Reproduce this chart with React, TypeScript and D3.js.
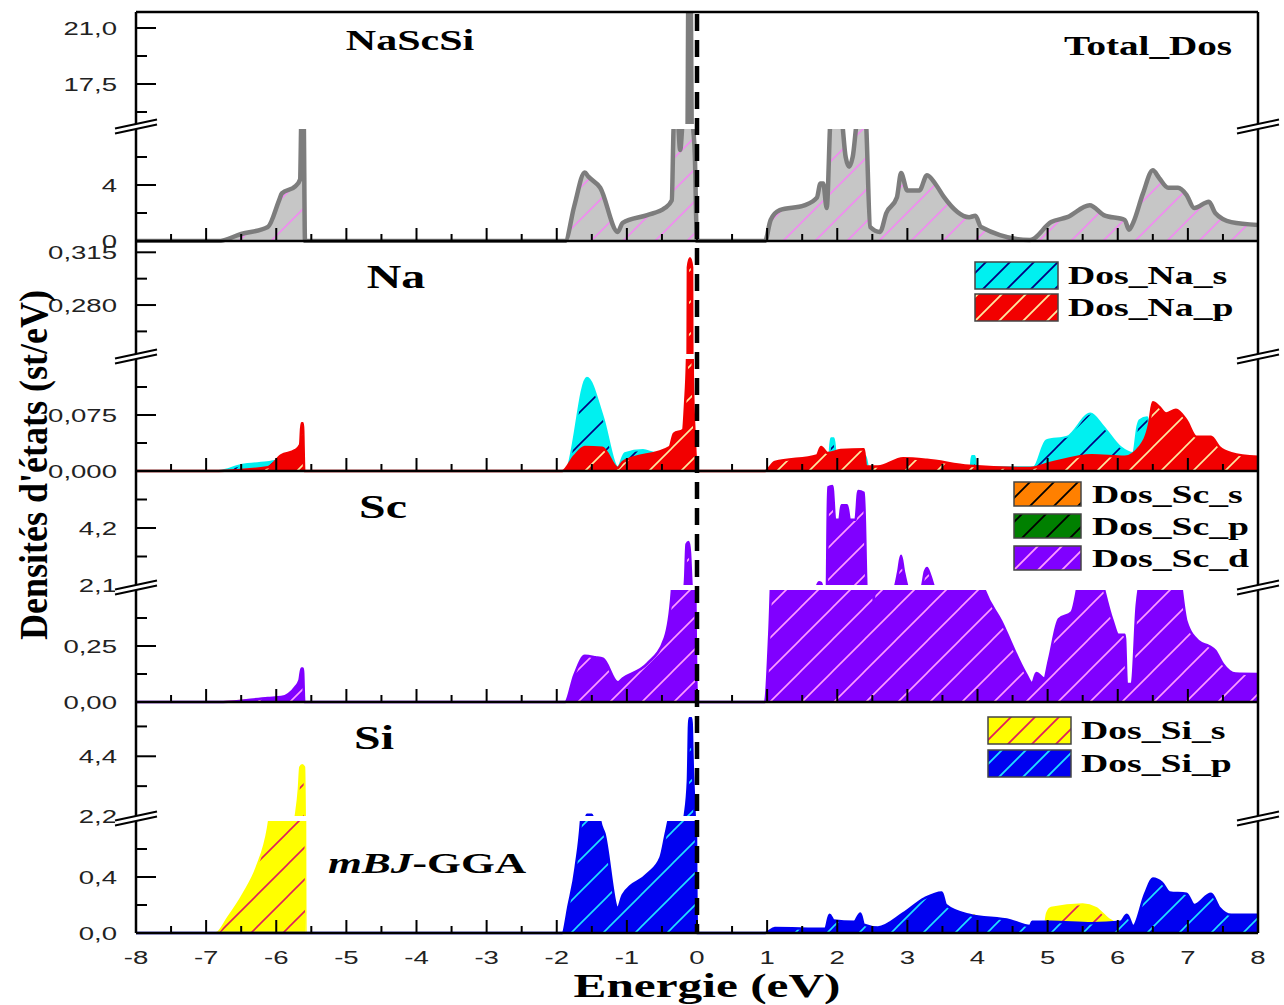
import React from "react";
import * as d3 from "d3";

type Pt = [number, number];

// energy axis
const energyMajor = [-8, -7, -6, -5, -4, -3, -2, -1, 0, 1, 2, 3, 4, 5, 6, 7, 8];
const energyMinor = [-7.5, -6.5, -5.5, -4.5, -3.5, -2.5, -1.5, -0.5, 0.5, 1.5, 2.5, 3.5, 4.5, 5.5, 6.5, 7.5];
const energyLabels = ["-8", "-7", "-6", "-5", "-4", "-3", "-2", "-1", "0", "1", "2", "3", "4", "5", "6", "7", "8"];

// y ticks per panel (lower / upper segment of the broken axis)
const totLowTicks = [0, 4];
const totLowLabels = ["0", "4"];
const totLowMinor = [2, 6];
const totUpTicks = [17.5, 21];
const totUpLabels = ["17,5", "21,0"];
const totUpMinor = [15.75, 19.25];

const naLowTicks = [0, 0.075];
const naLowLabels = ["0,000", "0,075"];
const naLowMinor = [0.0375, 0.1125];
const naUpTicks = [0.28, 0.315];
const naUpLabels = ["0,280", "0,315"];
const naUpMinor = [0.2625, 0.2975];

const scLowTicks = [0, 0.25];
const scLowLabels = ["0,00", "0,25"];
const scLowMinor = [0.125, 0.375];
const scUpTicks = [2.1, 4.2];
const scUpLabels = ["2,1", "4,2"];
const scUpMinor = [3.15, 5.25];

const siLowTicks = [0, 0.4];
const siLowLabels = ["0,0", "0,4"];
const siLowMinor = [0.2, 0.6];
const siUpTicks = [2.2, 4.4];
const siUpLabels = ["2,2", "4,4"];
const siUpMinor = [3.3, 5.5];

// DOS curves: [energy (eV), states/eV]
const totalDos: Pt[] = [
  [-8, 0], [-6.83, 0], [-6.5, 0.5], [-6.12, 1.0], [-5.96, 2.9], [-5.92, 3.4], [-5.73, 3.9], [-5.66, 4.4],
  [-5.64, 9], [-5.61, 9], [-5.59, 0],
  [-1.88, 0], [-1.75, 2.5], [-1.6, 4.9], [-1.55, 4.6], [-1.38, 3.8], [-1.13, 0.65], [-1.06, 1.3],
  [-0.71, 1.85], [-0.46, 2.35], [-0.36, 2.9], [-0.33, 8.5], [-0.28, 9], [-0.24, 6.5], [-0.2, 9],
  [-0.14, 12], [-0.12, 25], [-0.09, 25], [-0.07, 10], [-0.03, 6], [0, 0],
  [0.97, 0], [1.05, 1.5], [1.18, 2.2], [1.53, 2.55], [1.71, 3.1], [1.76, 4.1], [1.8, 4.1], [1.85, 2.35],
  [1.91, 9], [2.05, 9], [2.12, 6], [2.17, 5.3], [2.22, 6], [2.3, 9], [2.4, 9], [2.47, 1.0], [2.61, 0.65],
  [2.7, 2.0], [2.85, 3.1], [2.91, 4.85], [3.0, 3.6], [3.17, 3.6], [3.28, 4.7], [3.41, 4.0], [3.52, 3.15],
  [3.88, 1.7], [3.97, 1.8], [4.05, 1.0], [4.75, 0.07], [5.05, 1.35], [5.28, 1.7], [5.6, 2.55], [5.8, 1.85],
  [6.1, 1.5], [6.16, 0.8], [6.22, 1.3], [6.36, 3.4], [6.5, 5.05], [6.59, 4.5], [6.72, 3.8], [6.86, 3.8],
  [6.98, 3.3], [7.09, 2.35], [7.3, 2.8], [7.39, 2.0], [7.62, 1.35], [8, 1.15],
];

const naS: Pt[] = [
  [-8, 0], [-6.82, 0], [-6.5, 0.008], [-6.1, 0.012], [-5.9, 0.015], [-5.7, 0.014], [-5.62, 0.016], [-5.6, 0],
  [-1.88, 0], [-1.57, 0.125], [-1.34, 0.072], [-1.13, 0.005], [-1.03, 0.024], [-0.77, 0.028], [-0.58, 0.024],
  [-0.3, 0.03], [-0.15, 0.05], [-0.1, 0.06], [-0.03, 0.02], [0, 0],
  [0.97, 0], [1.1, 0.008], [1.8, 0.015], [1.88, 0.015], [1.91, 0.044], [1.95, 0.044], [1.98, 0.025],
  [2.4, 0.02], [2.45, 0.003], [3.0, 0.01], [3.9, 0.005], [3.92, 0.02], [3.96, 0.02], [3.98, 0.005],
  [4.8, 0.005], [4.98, 0.041], [5.28, 0.046], [5.61, 0.077], [5.8, 0.059], [6.04, 0.032], [6.22, 0.024],
  [6.28, 0.06], [6.31, 0.068], [6.42, 0.072], [6.5, 0.03], [7, 0.02], [8, 0.01],
];

const naP: Pt[] = [
  [-8, 0], [-6.82, 0], [-6.12, 0.005], [-5.93, 0.021], [-5.73, 0.028], [-5.66, 0.035], [-5.64, 0.064],
  [-5.62, 0.064], [-5.6, 0],
  [-1.92, 0], [-1.75, 0.02], [-1.6, 0.032], [-1.35, 0.031], [-1.13, 0.004], [-1.06, 0.012], [-0.39, 0.032],
  [-0.33, 0.05], [-0.2, 0.055], [-0.17, 0.09], [-0.14, 0.16], [-0.13, 0.305], [-0.1, 0.311], [-0.07, 0.305],
  [-0.06, 0.13], [-0.03, 0.04], [0, 0],
  [0.97, 0], [1.11, 0.012], [1.71, 0.021], [1.77, 0.032], [1.86, 0.024], [2.05, 0.028], [2.38, 0.029],
  [2.41, 0.006], [2.58, 0.006], [2.94, 0.017], [3.28, 0.015], [3.88, 0.007], [4.75, 0.004], [5.05, 0.011],
  [5.63, 0.021], [6.1, 0.019], [6.31, 0.032], [6.45, 0.064], [6.5, 0.092], [6.59, 0.086], [6.69, 0.077],
  [6.83, 0.082], [6.98, 0.068], [7.12, 0.046], [7.33, 0.046], [7.45, 0.032], [7.62, 0.024], [8, 0.019],
];

const scS: Pt[] = [
  [-8, 0], [-6.8, 0], [-6.4, 0.008], [-6.0, 0.012], [-5.7, 0.01], [-5.6, 0],
  [-1.9, 0], [-1.5, 0.005], [-0.5, 0.005], [0, 0], [1, 0], [8, 0.003],
];

const scP: Pt[] = [
  [-8, 0], [-5.6, 0], [-1.9, 0], [-1.5, 0.004], [0, 0], [8, 0],
];

const scD: Pt[] = [
  [-8, 0], [-6.76, 0], [-6.12, 0.018], [-5.93, 0.022], [-5.73, 0.066], [-5.67, 0.096], [-5.64, 0.15],
  [-5.62, 0.15], [-5.6, 0],
  [-1.88, 0], [-1.75, 0.12], [-1.6, 0.206], [-1.45, 0.2], [-1.34, 0.193], [-1.13, 0.088], [-1.06, 0.105],
  [-0.71, 0.171], [-0.46, 0.285], [-0.36, 0.49], [-0.3, 1.0], [-0.2, 1.6], [-0.17, 2.3], [-0.15, 3.6],
  [-0.12, 3.68], [-0.1, 3.3], [-0.08, 2.2], [-0.04, 1.0], [0, 0],
  [0.97, 0], [1.03, 0.3], [1.09, 0.8], [1.5, 1.5], [1.7, 2.0], [1.74, 2.2], [1.77, 2.17], [1.8, 1.9],
  [1.85, 2.0], [1.87, 5.7], [1.93, 5.75], [1.97, 4.5], [2.03, 4.5], [2.06, 5.04], [2.14, 5.04], [2.18, 4.5],
  [2.26, 4.5], [2.3, 5.56], [2.38, 5.5], [2.42, 1.8], [2.48, 1.0], [2.52, 0.45], [2.56, 1.0], [2.6, 1.8],
  [2.8, 1.9], [2.87, 2.6], [2.91, 3.18], [2.95, 2.6], [3.02, 2.0], [3.2, 2.0], [3.25, 2.6], [3.28, 2.73],
  [3.32, 2.5], [3.4, 1.9], [4.08, 0.52], [4.34, 0.36], [4.69, 0.127], [4.78, 0.083], [4.84, 0.13],
  [4.95, 0.105], [5.02, 0.19], [5.16, 0.37], [5.34, 0.4], [5.48, 0.6], [5.6, 0.7], [5.72, 0.6],
  [5.92, 0.37], [6.01, 0.3], [6.1, 0.3], [6.13, 0.08], [6.2, 0.08], [6.27, 0.43], [6.37, 0.6], [6.6, 0.7],
  [6.86, 0.6], [6.98, 0.36], [7.16, 0.27], [7.3, 0.25], [7.39, 0.23], [7.5, 0.17], [7.68, 0.127], [8, 0.125],
];

const siS: Pt[] = [
  [-8, 0], [-6.86, 0], [-6.69, 0.11], [-6.47, 0.28], [-6.28, 0.47], [-6.12, 0.75], [-6.05, 1.0], [-5.8, 1.5],
  [-5.72, 2.28], [-5.68, 3.2], [-5.66, 4.0], [-5.63, 4.08], [-5.6, 4.0], [-5.58, 0],
  [-1.9, 0], [-1.5, 0.1], [-0.5, 0.2], [0, 0], [0.97, 0], [3.9, 0.05], [3.95, 0.13], [4.0, 0.05],
  [4.95, 0.03], [4.99, 0.14], [5.05, 0.18], [5.5, 0.205], [5.69, 0.18], [5.87, 0.1], [5.98, 0.07],
  [6.2, 0.03], [8, 0.02],
];

const siP: Pt[] = [
  [-8, 0], [-1.92, 0], [-1.83, 0.2], [-1.73, 0.47], [-1.63, 1.0], [-1.57, 2.25], [-1.5, 2.25], [-1.44, 1.2],
  [-1.38, 0.8], [-1.32, 0.71], [-1.13, 0.18], [-1.06, 0.27], [-0.71, 0.42], [-0.52, 0.54], [-0.45, 0.7],
  [-0.39, 0.85], [-0.25, 1.5], [-0.17, 2.3], [-0.13, 3.5], [-0.11, 5.8], [-0.08, 5.8], [-0.06, 4.0],
  [-0.03, 2.0], [0, 0],
  [0.97, 0], [1.11, 0.035], [1.83, 0.03], [1.89, 0.13], [1.95, 0.09], [2.24, 0.08], [2.33, 0.14],
  [2.38, 0.06], [2.58, 0.04], [2.94, 0.14], [3.25, 0.25], [3.49, 0.29], [3.55, 0.2], [3.88, 0.13],
  [4.47, 0.09], [4.75, 0.05], [4.78, 0.08], [5.05, 0.08], [5.63, 0.07], [6.04, 0.08], [6.13, 0.13],
  [6.22, 0.05], [6.39, 0.28], [6.5, 0.39], [6.63, 0.36], [6.74, 0.29], [6.98, 0.28], [7.09, 0.2],
  [7.33, 0.28], [7.45, 0.18], [7.62, 0.13], [8, 0.13],
];

// layout
const W = 1284;
const H = 1005;
const X0 = 136;
const X1 = 1258;
const LOW_H = 112;
const GAP = 5;
const SX = 1.45; // the figure is stretched horizontally
const SERIF = "'Liberation Serif', 'Times New Roman', serif";
const SANS = "'Liberation Sans', Arial, sans-serif";

type Series = { id: string; data: Pt[]; fill: string; hatch: string; stroke: string; sw: number };
type Panel = {
  id: string; top: number; bottom: number;
  low: [number, number]; up: [number, number];
  lowTicks: number[]; lowLabels: string[]; lowMinor: number[];
  upTicks: number[]; upLabels: string[]; upMinor: number[];
  series: Series[];
};

const panels: Panel[] = [
  {
    id: "tot", top: 12, bottom: 241, low: [0, 8], up: [15, 22],
    lowTicks: totLowTicks, lowLabels: totLowLabels, lowMinor: totLowMinor,
    upTicks: totUpTicks, upLabels: totUpLabels, upMinor: totUpMinor,
    series: [{ id: "total", data: totalDos, fill: "#c6c6c6", hatch: "#f08cf0", stroke: "#7d7d7d", sw: 4.5 }],
  },
  {
    id: "na", top: 241, bottom: 471, low: [0, 0.15], up: [0.2475, 0.3225],
    lowTicks: naLowTicks, lowLabels: naLowLabels, lowMinor: naLowMinor,
    upTicks: naUpTicks, upLabels: naUpLabels, upMinor: naUpMinor,
    series: [
      { id: "nas", data: naS, fill: "#00f0f0", hatch: "#000080", stroke: "#00f0f0", sw: 2 },
      { id: "nap", data: naP, fill: "#f20000", hatch: "#ffe9a0", stroke: "#f20000", sw: 2.5 },
    ],
  },
  {
    id: "sc", top: 471, bottom: 702, low: [0, 0.5], up: [2.1, 6.3],
    lowTicks: scLowTicks, lowLabels: scLowLabels, lowMinor: scLowMinor,
    upTicks: scUpTicks, upLabels: scUpLabels, upMinor: scUpMinor,
    series: [
      { id: "scs", data: scS, fill: "#ff8000", hatch: "#000000", stroke: "#ff8000", sw: 2 },
      { id: "scp", data: scP, fill: "#008000", hatch: "#000000", stroke: "#008000", sw: 2 },
      { id: "scd", data: scD, fill: "#8000ff", hatch: "#ff9cff", stroke: "#8000ff", sw: 2.5 },
    ],
  },
  {
    id: "si", top: 702, bottom: 933, low: [0, 0.8], up: [2.2, 6.4],
    lowTicks: siLowTicks, lowLabels: siLowLabels, lowMinor: siLowMinor,
    upTicks: siUpTicks, upLabels: siUpLabels, upMinor: siUpMinor,
    series: [
      { id: "sis", data: siS, fill: "#ffff00", hatch: "#e0205a", stroke: "#ffff00", sw: 2 },
      { id: "sip", data: siP, fill: "#0000f0", hatch: "#20e0ff", stroke: "#0000f0", sw: 2.5 },
    ],
  },
];

const legends = [
  { x: 975, y: 262, w: 83, h: 27, step: 32, tx: 1068, items: [["nas", "Dos_Na_s"], ["nap", "Dos_Na_p"]] },
  { x: 1014, y: 482, w: 67, h: 24, step: 32, tx: 1092, items: [["scs", "Dos_Sc_s"], ["scp", "Dos_Sc_p"], ["scd", "Dos_Sc_d"]] },
  { x: 988, y: 717, w: 83, h: 27, step: 33, tx: 1081, items: [["sis", "Dos_Si_s"], ["sip", "Dos_Si_p"]] },
];

const allSeries = panels.flatMap((p) => p.series);

const x = d3.scaleLinear().domain([-8, 8]).range([X0, X1]);

// text stretched horizontally like the reference figure
function SText(props: {
  x: number; y: number; size: number; anchor?: string; family?: string; bold?: boolean;
  fill?: string; dy?: string; children: React.ReactNode;
}) {
  const { x: tx, y: ty, size, anchor = "start", family = SERIF, bold = true, fill = "#000", dy } = props;
  return (
    <text
      transform={`translate(${tx},${ty}) scale(${SX},1)`}
      textAnchor={anchor}
      fontFamily={family}
      fontWeight={bold ? "bold" : "normal"}
      fontSize={size}
      fill={fill}
      dy={dy}
    >
      {props.children}
    </text>
  );
}

function BreakMark({ cx, cy }: { cx: number; cy: number }) {
  const hw = 21;
  const s = 4.5;
  return (
    <g>
      <polygon
        points={`${cx - hw},${cy - 2.5 + s} ${cx + hw},${cy - 2.5 - s} ${cx + hw},${cy + 2.5 - s} ${cx - hw},${cy + 2.5 + s}`}
        fill="#fff"
      />
      <line x1={cx - hw} y1={cy - 2.5 + s} x2={cx + hw} y2={cy - 2.5 - s} stroke="#000" strokeWidth={2} />
      <line x1={cx - hw} y1={cy + 2.5 + s} x2={cx + hw} y2={cy + 2.5 - s} stroke="#000" strokeWidth={2} />
    </g>
  );
}

function PanelView({ p }: { p: Panel }) {
  const lowTop = p.bottom - LOW_H;
  const upBot = lowTop - GAP;
  const yLow = d3.scaleLinear().domain(p.low).range([p.bottom, lowTop]);
  const yUp = d3.scaleLinear().domain(p.up).range([upBot, p.top]);
  const curve = d3.curveMonotoneX;
  const areaLow = d3.area<Pt>().x((d) => x(d[0])).y0(p.bottom).y1((d) => yLow(d[1])).curve(curve);
  const areaUp = d3.area<Pt>().x((d) => x(d[0])).y0(p.bottom).y1((d) => yUp(d[1])).curve(curve);
  const lineLow = d3.line<Pt>().x((d) => x(d[0])).y((d) => yLow(d[1])).curve(curve);
  const lineUp = d3.line<Pt>().x((d) => x(d[0])).y((d) => yUp(d[1])).curve(curve);

  const tickLabel = (y: number, label: string, key: string) => (
    <SText key={key} x={X0 - 19} y={y} size={19} anchor="end" family={SANS} bold={false} fill="#222" dy="0.35em">
      {label}
    </SText>
  );

  return (
    <g>
      <defs>
        <clipPath id={`clip-low-${p.id}`}>
          <rect x={X0} y={lowTop} width={X1 - X0} height={LOW_H + 2} />
        </clipPath>
        <clipPath id={`clip-up-${p.id}`}>
          <rect x={X0} y={p.top} width={X1 - X0} height={upBot - p.top} />
        </clipPath>
      </defs>
      <g clipPath={`url(#clip-low-${p.id})`}>
        {p.series.map((s) => (
          <g key={s.id}>
            <path d={areaLow(s.data) || ""} fill={`url(#pat-${s.id})`} />
            <path d={lineLow(s.data) || ""} fill="none" stroke={s.stroke} strokeWidth={s.sw} strokeLinejoin="round" />
          </g>
        ))}
      </g>
      <g clipPath={`url(#clip-up-${p.id})`}>
        {p.series.map((s) => (
          <g key={s.id}>
            <path d={areaUp(s.data) || ""} fill={`url(#pat-${s.id})`} />
            <path d={lineUp(s.data) || ""} fill="none" stroke={s.stroke} strokeWidth={s.sw} strokeLinejoin="round" />
          </g>
        ))}
      </g>
      {/* energy ticks along the bottom of each panel */}
      {energyMajor.map((e) => (
        <line key={`M${e}`} x1={x(e)} x2={x(e)} y1={p.bottom} y2={p.bottom - 13} stroke="#000" strokeWidth={2} />
      ))}
      {energyMinor.map((e) => (
        <line key={`m${e}`} x1={x(e)} x2={x(e)} y1={p.bottom} y2={p.bottom - 7} stroke="#000" strokeWidth={2} />
      ))}
      {/* y ticks */}
      {p.lowTicks.map((v, i) => (
        <g key={`lt${i}`}>
          <line x1={X0} x2={X0 + 20} y1={yLow(v)} y2={yLow(v)} stroke="#000" strokeWidth={2} />
          {tickLabel(yLow(v), p.lowLabels[i], `ltl${i}`)}
        </g>
      ))}
      {p.lowMinor.map((v, i) => (
        <line key={`lm${i}`} x1={X0} x2={X0 + 11} y1={yLow(v)} y2={yLow(v)} stroke="#000" strokeWidth={2} />
      ))}
      {p.upTicks.map((v, i) => (
        <g key={`ut${i}`}>
          <line x1={X0} x2={X0 + 20} y1={yUp(v)} y2={yUp(v)} stroke="#000" strokeWidth={2} />
          {tickLabel(yUp(v), p.upLabels[i], `utl${i}`)}
        </g>
      ))}
      {p.upMinor.map((v, i) => (
        <line key={`um${i}`} x1={X0} x2={X0 + 11} y1={yUp(v)} y2={yUp(v)} stroke="#000" strokeWidth={2} />
      ))}
      <line x1={X0} x2={X1} y1={p.bottom} y2={p.bottom} stroke="#000" strokeWidth={2.5} />
    </g>
  );
}

export default function App() {
  const x0 = x(0);
  return (
    <svg width={W} height={H} viewBox={`0 0 ${W} ${H}`} style={{ position: "absolute", left: 0, top: 0, background: "#fff" }}>
      <defs>
        {allSeries.map((s) => (
          <pattern key={s.id} id={`pat-${s.id}`} patternUnits="userSpaceOnUse" width={32} height={32}>
            <rect width={32} height={32} fill={s.fill} />
            <path d="M-4,36 L36,-4 M-4,4 L4,-4 M28,36 L36,28" stroke={s.hatch} strokeWidth={1.6} />
          </pattern>
        ))}
        {allSeries.map((s) => (
          <pattern key={`lg-${s.id}`} id={`lgpat-${s.id}`} patternUnits="userSpaceOnUse" width={24} height={24}>
            <rect width={24} height={24} fill={s.fill} />
            <path d="M-3,27 L27,-3 M-3,3 L3,-3 M21,27 L27,21" stroke={s.hatch} strokeWidth={1.8} />
          </pattern>
        ))}
      </defs>
      <rect width={W} height={H} fill="#fff" />

      {panels.map((p) => (
        <PanelView key={p.id} p={p} />
      ))}

      {/* frame */}
      <line x1={X0} x2={X1} y1={12} y2={12} stroke="#000" strokeWidth={2.5} />
      <line x1={X0} x2={X0} y1={12} y2={933} stroke="#000" strokeWidth={2.5} />
      <line x1={X1} x2={X1} y1={12} y2={933} stroke="#000" strokeWidth={2.5} />
      {panels.map((p) => (
        <g key={`br-${p.id}`}>
          <BreakMark cx={X0} cy={p.bottom - LOW_H - GAP / 2} />
          <BreakMark cx={X1} cy={p.bottom - LOW_H - GAP / 2} />
        </g>
      ))}

      {/* Fermi level */}
      <line x1={x0} x2={x0} y1={14} y2={933} stroke="#000" strokeWidth={4.5} strokeDasharray="17,9" />

      {/* x tick labels */}
      {energyMajor.map((e, i) => (
        <SText key={e} x={x(e)} y={957} size={19} anchor="middle" family={SANS} bold={false} fill="#222" dy="0.35em">
          {energyLabels[i]}
        </SText>
      ))}

      {/* panel titles */}
      <SText x={410} y={50} size={29} anchor="middle">NaScSi</SText>
      <SText x={1148} y={55} size={27} anchor="middle">Total_Dos</SText>
      <SText x={396} y={288} size={33} anchor="middle">Na</SText>
      <SText x={383} y={518} size={33} anchor="middle">Sc</SText>
      <SText x={374} y={749} size={33} anchor="middle">Si</SText>
      <SText x={328} y={873} size={30}>
        <tspan fontStyle="italic">mBJ</tspan>-GGA
      </SText>

      {/* legends */}
      {legends.map((lg, li) => (
        <g key={li}>
          {lg.items.map(([id, label], i) => (
            <g key={id}>
              <rect
                x={lg.x}
                y={lg.y + i * lg.step}
                width={lg.w}
                height={lg.h}
                fill={`url(#lgpat-${id})`}
                stroke="#444"
                strokeWidth={1.5}
              />
              <SText x={lg.tx} y={lg.y + i * lg.step + lg.h / 2} size={26} dy="0.33em">
                {label}
              </SText>
            </g>
          ))}
        </g>
      ))}

      {/* axis titles */}
      <SText x={707} y={997} size={34} anchor="middle">Energie (eV)</SText>
      <text
        transform="translate(47,465) rotate(-90) scale(1,1.2)"
        textAnchor="middle"
        fontFamily={SERIF}
        fontWeight="bold"
        fontSize={34}
        textLength={350}
        lengthAdjust="spacingAndGlyphs"
        fill="#000"
      >
        Densités d'états (st/eV)
      </text>
    </svg>
  );
}
